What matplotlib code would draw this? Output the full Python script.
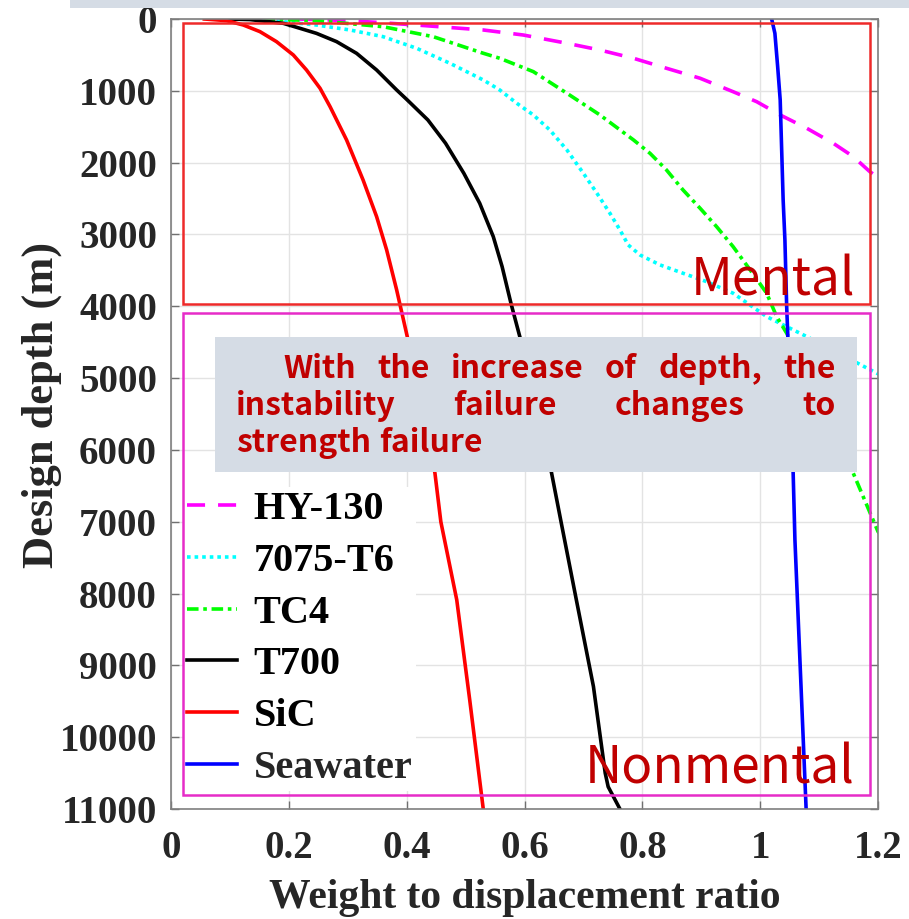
import numpy as np
import matplotlib.pyplot as plt
from matplotlib.patches import Rectangle

plt.rcParams['font.family'] = 'Liberation Serif'
plt.rcParams['font.weight'] = 'bold'

# weight-to-displacement ratio vs design depth (m)
hy130_x = [0.213, 0.304, 0.417, 0.53, 0.598, 0.672, 0.728, 0.785, 0.841, 0.898,
           0.954, 0.994, 1.034, 1.079, 1.124, 1.158, 1.186, 1.215]
hy130_d = [0, 23, 84, 153, 223, 338, 432, 547, 686, 825,
           1012, 1151, 1336, 1521, 1730, 1916, 2125, 2290]

al7075_x = [0.128, 0.19, 0.247, 0.304, 0.36, 0.417, 0.4735, 0.53, 0.558, 0.587,
            0.615, 0.643, 0.672, 0.700, 0.723, 0.745, 0.762, 0.776, 0.796, 0.830,
            0.869, 0.909, 0.954, 1.011, 1.079, 1.198, 1.22]
al7075_d = [0, 37, 84, 153, 246, 408, 617, 849, 988, 1174,
            1336, 1545, 1824, 2149, 2427, 2705, 2937, 3146, 3285, 3424,
            3540, 3657, 3818, 4144, 4422, 4932, 5020]

tc4_x = [0.157, 0.247, 0.36, 0.445, 0.53, 0.558, 0.615, 0.672, 0.728, 0.785,
         0.813, 0.841, 0.869, 0.898, 0.926, 0.954, 0.983, 1.011, 1.028, 1.045,
         1.10, 1.158, 1.2, 1.215]
tc4_d = [0, 23, 107, 246, 477, 547, 733, 1034, 1336, 1684,
         1870, 2102, 2380, 2635, 2891, 3169, 3494, 3818, 4144, 4375,
         5300, 6324, 7137, 7300]

t700_x = [0.0945, 0.134, 0.1906, 0.219, 0.247, 0.281, 0.315, 0.349, 0.383, 0.401,
          0.436, 0.466, 0.497, 0.524, 0.547, 0.562, 0.577, 0.592, 0.646, 0.662,
          0.688, 0.717, 0.737, 0.742, 0.762]
t700_d = [0, 8, 60, 130, 200, 315, 478, 710, 988, 1127,
          1406, 1730, 2148, 2566, 3030, 3448, 3958, 4422, 6324, 7000,
          8088, 9294, 10500, 10690, 11000]

sic_x = [0.0566, 0.0945, 0.1228, 0.151, 0.179, 0.2076, 0.230, 0.253, 0.270, 0.298,
         0.326, 0.349, 0.366, 0.383, 0.401, 0.448, 0.458, 0.485, 0.507, 0.53]
sic_d = [0, 23, 84, 176, 315, 501, 710, 965, 1221, 1684,
         2241, 2752, 3215, 3772, 4422, 6324, 7000, 8088, 9480, 11000]

sea_x = [1.0195, 1.025, 1.0297, 1.034, 1.039, 1.042, 1.045, 1.056, 1.059, 1.078]
sea_d = [0, 199, 664, 1127, 2519, 3076, 4005, 6324, 7252, 11000]

x_ticks = [0, 0.2, 0.4, 0.6, 0.8, 1.0, 1.2]
x_tick_labels = ['0', '0.2', '0.4', '0.6', '0.8', '1', '1.2']
y_ticks = list(range(0, 11001, 1000))

note_lines = ['With the increase of depth, the',
              'instability failure changes to',
              'strength failure']

W, H = 909, 919


def fx(px):
    return px / W


def fy(py):
    return 1 - py / H


fig = plt.figure(figsize=(W / 100, H / 100), dpi=100)
ax = fig.add_axes([fx(171), fy(809), 707 / W, 790 / H])

lw = 2.6
ax.plot(hy130_x, hy130_d, color='#ff00ff', lw=lw, dashes=(5, 3.6), label='HY-130')
ax.plot(al7075_x, al7075_d, color='#00ffff', lw=lw, dashes=(1, 1.1), label='7075-T6')
ax.plot(tc4_x, tc4_d, color='#00ff00', lw=lw, dashes=(3.2, 1.3, 1, 1.3), label='TC4')
ax.plot(t700_x, t700_d, color='black', lw=lw, label='T700')
ax.plot(sic_x, sic_d, color='#ff0000', lw=lw, label='SiC')
ax.plot(sea_x, sea_d, color='#0000ff', lw=lw, label='Seawater')

ax.set_xlim(0, 1.2)
ax.set_ylim(11000, 0)
ax.set_xticks(x_ticks)
ax.set_xticklabels(x_tick_labels)
ax.set_yticks(y_ticks)
ax.grid(True, color='#e3e3e3', lw=1)
ax.set_axisbelow(True)
ax.tick_params(direction='in', length=6, width=1, top=True, right=True,
               color='#707070', labelsize=28, labelcolor='#262626')
ax.tick_params(axis='x', pad=15)
ax.tick_params(axis='y', pad=10)
for s in ax.spines.values():
    s.set_color('#7f7f7f')
    s.set_linewidth(1.2)

ax.set_xlabel('Weight to displacement ratio', fontsize=30, color='#262626', weight='bold')
ax.xaxis.set_label_coords(0.5, -0.089)
ax.set_ylabel('Design depth (m)', fontsize=32, color='#262626', weight='bold')
ax.yaxis.set_label_coords(-0.154, 0.511)

leg = ax.legend(loc='upper left', bbox_to_anchor=(fx(183), fy(487)),
                bbox_transform=fig.transFigure, fontsize=29, handlelength=1.25,
                handletextpad=0.4, labelspacing=0.36, borderpad=0.1,
                borderaxespad=0, frameon=True, fancybox=False,
                facecolor='white', edgecolor='none', framealpha=1)
leg.get_texts()[-1].set_color('#262626')
leg.set_zorder(5)

# region boxes
ax.add_patch(Rectangle((0.02, 60), 1.166, 3910, fill=False, ec='#ee2a2a', lw=1.8, zorder=6))
ax.add_patch(Rectangle((0.02, 4100), 1.166, 6700, fill=False, ec='#e62cc8', lw=1.8, zorder=6))

fig.text(fx(855), fy(296), 'Mental', ha='right', va='baseline', fontsize=37,
         color='#c00000', family='Noto Sans CJK SC', weight='normal')
fig.text(fx(855), fy(783), 'Nonmental', ha='right', va='baseline', fontsize=37,
         color='#c00000', family='Noto Sans CJK SC', weight='normal')

# top band and note box
fig.add_artist(Rectangle((fx(70), fy(8)), 1 - fx(70), 8 / H, transform=fig.transFigure,
                         fc='#d5dce5', ec='none', zorder=1))
fig.add_artist(Rectangle((fx(215), fy(472)), (857 - 215) / W, (472 - 337) / H,
                         transform=fig.transFigure, fc='#d5dce5', ec='none', zorder=1))

renderer = fig.canvas.get_renderer()
line_specs = [(283, 836, 378, True), (236, 836, 415, True), (236, 836, 452, False)]
for line, (x0, x1, yb, justify) in zip(note_lines, line_specs):
    words = line.split()
    texts = [fig.text(0, fy(yb), w, fontsize=23, color='#c00000', family='Noto Sans CJK SC',
                      weight='bold', va='baseline', zorder=4) for w in words]
    widths = [t.get_window_extent(renderer).width for t in texts]
    if justify:
        gap = (x1 - x0 - sum(widths)) / (len(words) - 1)
    else:
        gap = 8
    x = x0
    for t, w in zip(texts, widths):
        t.set_x(fx(x))
        x += w + gap

fig.savefig('out.png', dpi=100)
